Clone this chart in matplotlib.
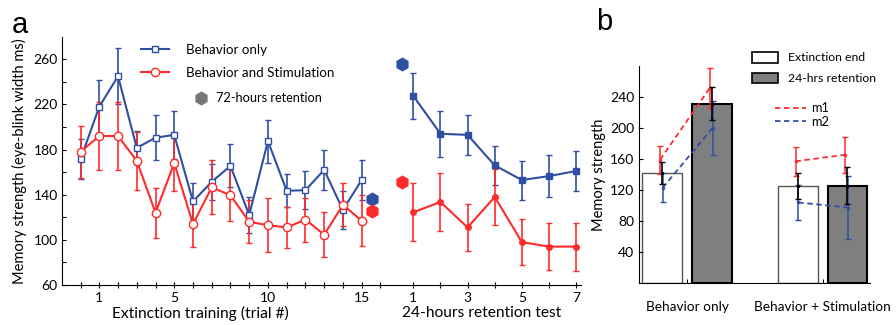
import matplotlib
matplotlib.use('Agg')
import matplotlib.pyplot as plt
from matplotlib.lines import Line2D
from matplotlib.patches import Patch
import numpy as np

# panel a: extinction training
trials = [0, 1, 2, 3, 4, 5, 6, 7, 8, 9, 10, 11, 12, 13, 14, 15]
beh_train = [171.5, 218, 245, 181.5, 190.5, 193, 134, 151.5, 165.5, 122, 187.5, 143.5, 144, 162, 126.5, 153]
beh_train_err = [18, 23.5, 25, 15, 20, 21, 16, 16, 19, 16, 19, 14.5, 17, 17.5, 17, 18]
stim_train = [178, 192, 192, 170, 124, 168, 114, 146.5, 139.5, 116, 113, 111, 118, 104.5, 131, 117]
stim_train_err = [23, 30, 30, 26, 22, 25, 20, 24, 23, 19, 24, 18.5, 19.5, 20, 19, 22.5]

# panel a: 24-hours retention test
days = [1, 2, 3, 4, 5, 6, 7]
beh_ret = [227.5, 194, 193, 166, 153, 156.5, 161]
beh_ret_err = [20.5, 20.5, 17.5, 17.5, 17.3, 18.5, 17.3]
stim_ret = [124.5, 133.5, 111, 138, 98, 94, 94]
stim_ret_err = [25.8, 25.8, 21, 24.5, 20.7, 20.6, 21.3]

# 72-hours retention (after training / before retention test)
hex_train_pos = 15.57
hex_ret_pos = 0.58
beh_72h = [136, 255.5]
stim_72h = [126, 151]

# panel b
groups = ['Behavior only', 'Behavior + Stimulation']
ext_end = [142, 125.5]
ext_end_err = [14, 16.5]
ret_24h = [231, 125.5]
ret_24h_err = [21, 24]
m1_ext = [159, 157]
m1_ext_err = [18, 19]
m1_ret = [251.5, 165.5]
m1_ret_err = [26, 23]
m2_ext = [123, 104]
m2_ext_err = [19, 22]
m2_ret = [200, 97.5]
m2_ret_err = [35, 41]

BLUE = '#2F4FA2'
RED = '#FF2B2B'

plt.rcParams['font.family'] = ['Lato', 'DejaVu Sans']

W, H = 896, 325
fig = plt.figure(figsize=(W / 100, H / 100), dpi=100)


def fig_rect(x0, y0, x1, y1):
    return [x0 / W, 1 - y1 / H, (x1 - x0) / W, (y1 - y0) / H]


ax1 = fig.add_axes(fig_rect(62, 36.7, 392, 285))
ax2 = fig.add_axes(fig_rect(392, 36.7, 581, 285), sharey=ax1)
ax3 = fig.add_axes(fig_rect(639, 65.7, 870, 283.3))

eb = dict(capsize=2.2, lw=1.5, elinewidth=1.2, capthick=1.0)

# training curves (open markers)
ax1.errorbar(trials, beh_train, yerr=beh_train_err, fmt='-s', color=BLUE,
             mfc='white', ms=5, mew=1.0, **eb)
ax1.errorbar(trials, stim_train, yerr=stim_train_err, fmt='-o', color=RED,
             mfc='white', ms=6, mew=1.0, **eb)
ax1.plot([hex_train_pos], [beh_72h[0]], 'h', color=BLUE, ms=9)
ax1.plot([hex_train_pos], [stim_72h[0]], 'h', color=RED, ms=9)

# retention curves (filled markers)
ax2.errorbar(days, beh_ret, yerr=beh_ret_err, fmt='-s', color=BLUE, ms=4, **eb)
ax2.errorbar(days, stim_ret, yerr=stim_ret_err, fmt='-o', color=RED, ms=4, **eb)
ax2.plot([hex_ret_pos], [beh_72h[1]], 'h', color=BLUE, ms=9)
ax2.plot([hex_ret_pos], [stim_72h[1]], 'h', color=RED, ms=9)

ax1.set_ylim(60, 280)
ax1.set_xlim(-0.99, 16.62)
ax2.set_xlim(0.214, 7.18)

yt = list(range(60, 261, 20))
ax1.set_yticks(yt)
ax1.set_yticklabels([str(v) if (v - 60) % 40 == 0 else '' for v in yt])
xt = list(range(0, 17))
ax1.set_xticks(xt)
ax1.set_xticklabels([str(t) if t in (1, 5, 10, 15) else '' for t in xt])
ax2.set_xticks(days)
ax2.set_xticklabels([str(d) if d % 2 == 1 else '' for d in days])

for ax in (ax1, ax2):
    ax.spines['top'].set_visible(False)
    ax.spines['right'].set_visible(False)
    ax.tick_params(direction='inout', length=4, width=0.8, labelsize=10, pad=3)
ax2.spines['left'].set_visible(False)
ax2.tick_params(axis='y', left=False, labelleft=False)
ax1.tick_params(axis='y', direction='in', length=3)

ax1.set_ylabel('Memory strength (eye-blink width ms)', fontsize=10.5, labelpad=5)
ax1.set_xlabel('Extinction training (trial #)', fontsize=11.2)
ax1.xaxis.set_label_coords(0.42, -0.085)
ax2.set_xlabel('24-hours retention test', fontsize=11.2)
ax2.xaxis.set_label_coords(0.474, -0.085)

h_lines = [Line2D([], [], color=BLUE, marker='s', mfc='white', ms=5, lw=1.5),
           Line2D([], [], color=RED, marker='o', mfc='white', ms=6, lw=1.5)]
leg1 = ax1.legend(h_lines, ['Behavior only', 'Behavior and Stimulation'],
                  loc='upper left', bbox_to_anchor=(141 / W, 1 - 44 / H),
                  bbox_transform=fig.transFigure, frameon=False, fontsize=9.6,
                  handlelength=2.1, handletextpad=1.3, labelspacing=0.8,
                  borderpad=0, borderaxespad=0)
ax1.add_artist(leg1)
ax1.legend([Line2D([], [], color='#777777', marker='h', ls='none', ms=9)],
           ['72-hours retention'], loc='upper left',
           bbox_to_anchor=(193 / W, 1 - 92 / H), bbox_transform=fig.transFigure,
           frameon=False, fontsize=9.2, handlelength=1.2, handletextpad=0.6,
           borderpad=0, borderaxespad=0)

# panel b
x = np.arange(len(groups))
bw = 0.295
off = 0.184
ax3.bar(x - off, ext_end, bw, color='white', edgecolor='#555555', lw=1.0, zorder=1)
ax3.bar(x + off, ret_24h, bw, color='#7f7f7f', edgecolor='black', lw=1.5, zorder=1)
ax3.errorbar(x - off, ext_end, yerr=ext_end_err, fmt='.', color='black', ms=3,
             capsize=2, elinewidth=1.2, zorder=4)
ax3.errorbar(x + off, ret_24h, yerr=ret_24h_err, fmt='.', color='black', ms=3,
             capsize=2, elinewidth=1.2, zorder=4)
for i in x:
    ax3.errorbar([i - off - 0.015, i + off - 0.015], [m1_ext[i], m1_ret[i]],
                 yerr=[m1_ext_err[i], m1_ret_err[i]], fmt='.', ls=(0, (3, 2)),
                 color=RED, ms=3, lw=1.3, capsize=2, elinewidth=1.1, zorder=3)
    ax3.errorbar([i - off + 0.005, i + off + 0.005], [m2_ext[i], m2_ret[i]],
                 yerr=[m2_ext_err[i], m2_ret_err[i]], fmt='.', ls=(0, (3, 2)),
                 color=BLUE, ms=3, lw=1.3, capsize=2, elinewidth=1.1, zorder=3)

ax3.set_xlim(-0.354, 1.35)
ax3.set_ylim(0, 280)
ax3.set_yticks([40, 80, 120, 160, 200, 240])
ax3.set_xticks(x)
ax3.set_xticklabels(groups)
ax3.spines['top'].set_visible(False)
ax3.spines['right'].set_visible(False)
ax3.tick_params(direction='in', length=3, width=0.8, labelsize=10)
ax3.tick_params(axis='x', pad=13, labelsize=9.8)
ax3.set_ylabel('Memory strength', fontsize=10.5, labelpad=3)

leg3 = ax3.legend([Patch(facecolor='white', edgecolor='black', lw=1.2),
                   Patch(facecolor='#7f7f7f', edgecolor='black', lw=1.2)],
                  ['Extinction end', '24-hrs retention'], loc='upper left',
                  bbox_to_anchor=(752 / W, 1 - 52 / H), bbox_transform=fig.transFigure,
                  frameon=False, fontsize=8.8, handlelength=2.1, handleheight=0.95,
                  handletextpad=0.85, labelspacing=0.75, borderpad=0, borderaxespad=0)
ax3.add_artist(leg3)
ax3.legend([Line2D([], [], color=RED, ls=(0, (3, 2)), lw=1.3),
            Line2D([], [], color=BLUE, ls=(0, (3, 2)), lw=1.3)],
           ['m1', 'm2'], loc='upper left',
           bbox_to_anchor=(775 / W, 1 - 102 / H), bbox_transform=fig.transFigure,
           frameon=False, fontsize=9.2, handlelength=2.4, handletextpad=0.4,
           labelspacing=0.15, borderpad=0, borderaxespad=0)

fig.text(12 / W, 1 - 25 / H, 'a', fontsize=21, family='Liberation Sans', va='center')
fig.text(596 / W, 1 - 22 / H, 'b', fontsize=21, family='Liberation Sans', va='center')

fig.savefig('out.png', dpi=100)
